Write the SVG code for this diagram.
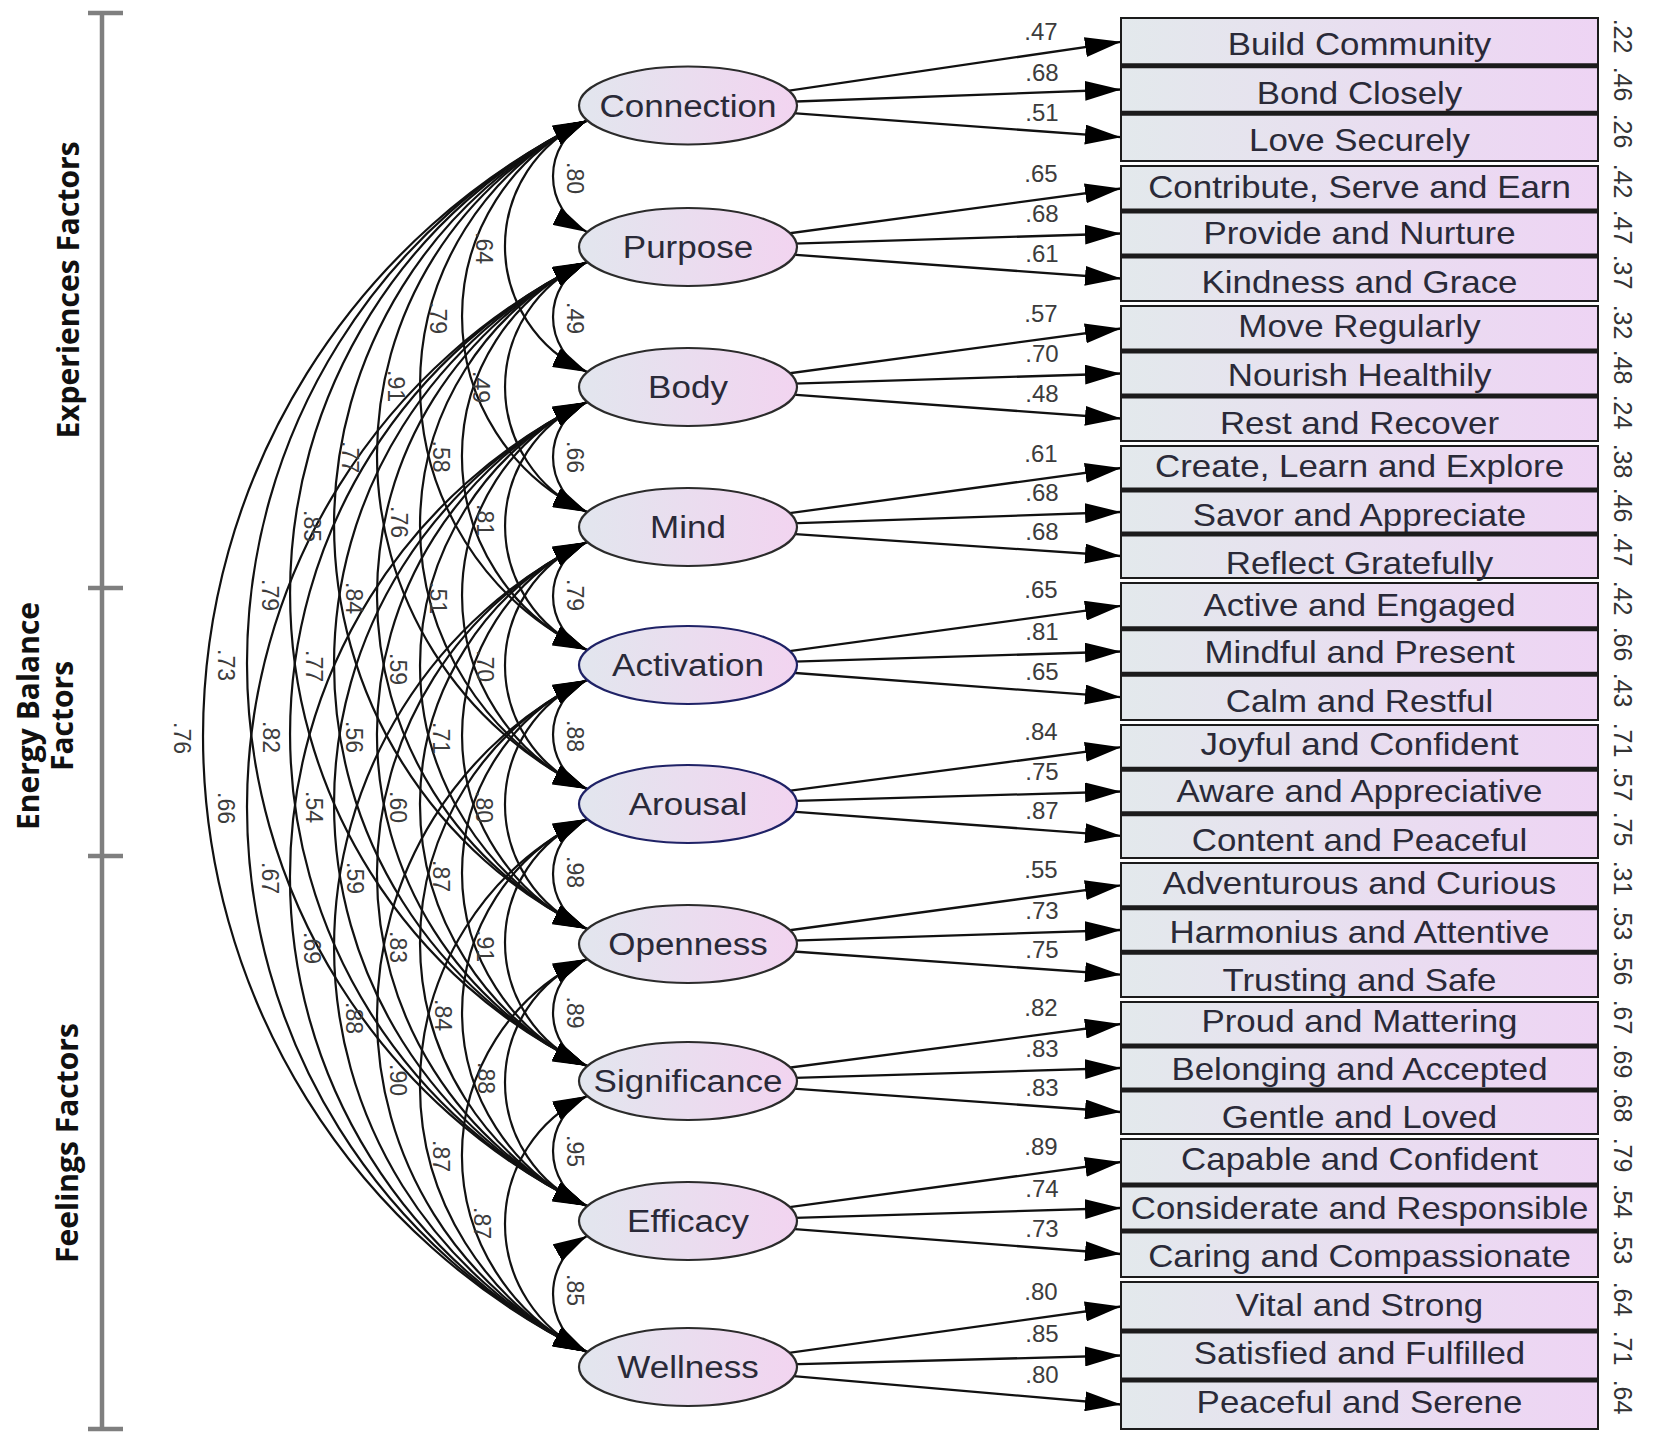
<svg xmlns="http://www.w3.org/2000/svg" width="1654" height="1450" viewBox="0 0 1654 1450">
<defs>
<linearGradient id="gE" x1="0" y1="0" x2="1" y2="0"><stop offset="0" stop-color="#e2e6ee"/><stop offset="1" stop-color="#f2d4f0"/></linearGradient>
<linearGradient id="gB" x1="0" y1="0" x2="1" y2="0"><stop offset="0" stop-color="#e3e9ec"/><stop offset="1" stop-color="#eed4f4"/></linearGradient>
<marker id="ah" viewBox="0 0 36 20" refX="36" refY="10" markerWidth="36" markerHeight="20" markerUnits="userSpaceOnUse" orient="auto-start-reverse"><path d="M0,0 L36,10 L0,20 Z" fill="#000"/></marker>
<marker id="ah2" viewBox="0 0 34 19" refX="34" refY="9.5" markerWidth="34" markerHeight="19" markerUnits="userSpaceOnUse" orient="auto-start-reverse"><path d="M0,0 L34,9.5 L0,19 Z" fill="#000"/></marker>
<style>
.lat{fill:url(#gE);stroke:#2b2b2b;stroke-width:2.2}
.lat2{fill:url(#gE);stroke:#1f2266;stroke-width:2.2}
.box{fill:url(#gB);stroke:#1b1b1b;stroke-width:2}
.sep{stroke:#1b1b1b;stroke-width:5}
.lt{font-family:"Liberation Sans",Arial,sans-serif;font-size:31px;fill:#2a2a38;text-anchor:middle}
.bt{font-family:"Liberation Sans",Arial,sans-serif;font-size:32px;fill:#2a2a38;text-anchor:middle}
.reg{stroke:#111;stroke-width:2.3;fill:none;marker-end:url(#ah)}
.cov{stroke:#111;stroke-width:2.2;fill:none;marker-start:url(#ah2);marker-end:url(#ah2)}
.pl{font-family:"Liberation Sans",Arial,sans-serif;font-size:24px;fill:#3c3c3c;text-anchor:middle}
.cl{font-family:"Liberation Sans",Arial,sans-serif;font-size:23px;fill:#3c3c3c;text-anchor:middle;dominant-baseline:central}
.rn{font-family:"Liberation Sans",Arial,sans-serif;font-size:25px;fill:#333;text-anchor:middle;dominant-baseline:central}
.br{stroke:#7f7f7f;stroke-width:4.5;fill:none}
.bl{font-family:"Open Sans","DejaVu Sans",sans-serif;font-weight:700;font-size:30px;fill:#111;text-anchor:middle}
</style>
</defs>
<rect x="0" y="0" width="1654" height="1450" fill="#fff"/>

<g id="bracket">
<line class="br" x1="102" y1="13" x2="102" y2="1429"/>
<line class="br" x1="88" y1="13" x2="123" y2="13"/>
<line class="br" x1="88" y1="588" x2="123" y2="588"/>
<line class="br" x1="88" y1="856" x2="123" y2="856"/>
<line class="br" x1="88" y1="1429" x2="123" y2="1429"/>
<text class="bl" transform="translate(79 290) rotate(-90)">Experiences Factors</text>
<text class="bl" transform="translate(39 716) rotate(-90)">Energy Balance</text>
<text class="bl" transform="translate(73 716) rotate(-90)">Factors</text>
<text class="bl" transform="translate(78 1143) rotate(-90)">Feelings Factors</text>
</g>

<g id="connectors">
<!-- covariances -->
<path class="cov" d="M587 120.5 A62.7 62.7 0 0 0 587 232"/>
<path class="cov" d="M587 262 A61.5 61.5 0 0 0 587 372"/>
<path class="cov" d="M587 402 A61.5 61.5 0 0 0 587 512"/>
<path class="cov" d="M587 542 A59.9 59.9 0 0 0 587 650"/>
<path class="cov" d="M587 680 A60.7 60.7 0 0 0 587 789"/>
<path class="cov" d="M587 819 A61.5 61.5 0 0 0 587 929"/>
<path class="cov" d="M587 959 A59.1 59.1 0 0 0 587 1066"/>
<path class="cov" d="M587 1096 A61.5 61.5 0 0 0 587 1206"/>
<path class="cov" d="M587 1236 A66.5 66.5 0 0 0 587 1352"/>
<path class="cov" d="M587 120.5 A137.4 137.4 0 0 0 587 372"/>
<path class="cov" d="M587 262 A136.3 136.3 0 0 0 587 512"/>
<path class="cov" d="M587 402 A134.8 134.8 0 0 0 587 650"/>
<path class="cov" d="M587 542 A134.0 134.0 0 0 0 587 789"/>
<path class="cov" d="M587 680 A135.5 135.5 0 0 0 587 929"/>
<path class="cov" d="M587 819 A134.0 134.0 0 0 0 587 1066"/>
<path class="cov" d="M587 959 A134.0 134.0 0 0 0 587 1206"/>
<path class="cov" d="M587 1096 A140.9 140.9 0 0 0 587 1352"/>
<path class="cov" d="M587 120.5 A215.8 215.8 0 0 0 587 512"/>
<path class="cov" d="M587 262 A213 213 0 0 0 587 650"/>
<path class="cov" d="M587 402 A212.3 212.3 0 0 0 587 789"/>
<path class="cov" d="M587 542 A212.3 212.3 0 0 0 587 929"/>
<path class="cov" d="M587 680 A211.5 211.5 0 0 0 587 1066"/>
<path class="cov" d="M587 819 A212.3 212.3 0 0 0 587 1206"/>
<path class="cov" d="M587 959 A216.9 216.9 0 0 0 587 1352"/>
<path class="cov" d="M587 120.5 A293.4 293.4 0 0 0 587 650"/>
<path class="cov" d="M587 262 A291.4 291.4 0 0 0 587 789"/>
<path class="cov" d="M587 402 A291.4 291.4 0 0 0 587 929"/>
<path class="cov" d="M587 542 A289 289 0 0 0 587 1066"/>
<path class="cov" d="M587 680 A290.6 290.6 0 0 0 587 1206"/>
<path class="cov" d="M587 819 A296.1 296.1 0 0 0 587 1352"/>
<path class="cov" d="M587 120.5 A371 371 0 0 0 587 789"/>
<path class="cov" d="M587 262 A369.8 369.8 0 0 0 587 929"/>
<path class="cov" d="M587 402 A367.4 367.4 0 0 0 587 1066"/>
<path class="cov" d="M587 542 A367.4 367.4 0 0 0 587 1206"/>
<path class="cov" d="M587 680 A373.8 373.8 0 0 0 587 1352"/>
<path class="cov" d="M587 120.5 A449.5 449.5 0 0 0 587 929"/>
<path class="cov" d="M587 262 A445.9 445.9 0 0 0 587 1066"/>
<path class="cov" d="M587 402 A445.9 445.9 0 0 0 587 1206"/>
<path class="cov" d="M587 542 A450.7 450.7 0 0 0 587 1352"/>
<path class="cov" d="M587 120.5 A524.8 524.8 0 0 0 587 1066"/>
<path class="cov" d="M587 262 A523.6 523.6 0 0 0 587 1206"/>
<path class="cov" d="M587 402 A528.3 528.3 0 0 0 587 1352"/>
<path class="cov" d="M587 120.5 A603.2 603.2 0 0 0 587 1206"/>
<path class="cov" d="M587 262 A606.8 606.8 0 0 0 587 1352"/>
<path class="cov" d="M587 120.5 A685.7 685.7 0 0 0 587 1352"/>
<!-- covariance labels -->
<text class="cl" transform="translate(575 178) rotate(90)">.80</text>
<text class="cl" transform="translate(575 318) rotate(90)">.49</text>
<text class="cl" transform="translate(575 457) rotate(90)">.66</text>
<text class="cl" transform="translate(575 595) rotate(90)">.79</text>
<text class="cl" transform="translate(575 736) rotate(90)">.88</text>
<text class="cl" transform="translate(575 872) rotate(90)">.98</text>
<text class="cl" transform="translate(575 1012.5) rotate(90)">.89</text>
<text class="cl" transform="translate(575 1151) rotate(90)">.95</text>
<text class="cl" transform="translate(575 1290) rotate(90)">.85</text>
<text class="cl" transform="translate(484 248) rotate(90)">.64</text>
<text class="cl" transform="translate(481 387) rotate(90)">.49</text>
<text class="cl" transform="translate(485 520) rotate(90)">.81</text>
<text class="cl" transform="translate(485 666) rotate(90)">.70</text>
<text class="cl" transform="translate(484 807) rotate(90)">.80</text>
<text class="cl" transform="translate(485 946) rotate(90)">.91</text>
<text class="cl" transform="translate(486 1078) rotate(90)">.88</text>
<text class="cl" transform="translate(482 1223) rotate(90)">.87</text>
<text class="cl" transform="translate(438 318) rotate(90)">.79</text>
<text class="cl" transform="translate(441 456.5) rotate(90)">.58</text>
<text class="cl" transform="translate(438 598) rotate(90)">.51</text>
<text class="cl" transform="translate(441 738) rotate(90)">.71</text>
<text class="cl" transform="translate(441 876) rotate(90)">.87</text>
<text class="cl" transform="translate(443 1015) rotate(90)">.84</text>
<text class="cl" transform="translate(441 1156) rotate(90)">.87</text>
<text class="cl" transform="translate(396 386) rotate(90)">.91</text>
<text class="cl" transform="translate(399 522) rotate(90)">.76</text>
<text class="cl" transform="translate(398 669) rotate(90)">.59</text>
<text class="cl" transform="translate(398 807) rotate(90)">.60</text>
<text class="cl" transform="translate(398 947) rotate(90)">.83</text>
<text class="cl" transform="translate(398 1080) rotate(90)">.90</text>
<text class="cl" transform="translate(350 457) rotate(90)">.77</text>
<text class="cl" transform="translate(354 598) rotate(90)">.84</text>
<text class="cl" transform="translate(354 737) rotate(90)">.56</text>
<text class="cl" transform="translate(355 878) rotate(90)">.59</text>
<text class="cl" transform="translate(354 1018) rotate(90)">.88</text>
<text class="cl" transform="translate(312 526) rotate(90)">.85</text>
<text class="cl" transform="translate(314 666) rotate(90)">.77</text>
<text class="cl" transform="translate(314 807) rotate(90)">.54</text>
<text class="cl" transform="translate(312 948) rotate(90)">.69</text>
<text class="cl" transform="translate(270 595) rotate(90)">.79</text>
<text class="cl" transform="translate(271 737) rotate(90)">.82</text>
<text class="cl" transform="translate(270 878) rotate(90)">.67</text>
<text class="cl" transform="translate(226 665) rotate(90)">.73</text>
<text class="cl" transform="translate(226 808) rotate(90)">.66</text>
<text class="cl" transform="translate(182 738) rotate(90)">.76</text>
<!-- regression paths -->
<line class="reg" x1="688" y1="105.5" x2="1121" y2="41.8"/>
<line class="reg" x1="688" y1="105.5" x2="1121" y2="89.5"/>
<line class="reg" x1="688" y1="105.5" x2="1121" y2="137.2"/>
<line class="reg" x1="688" y1="247" x2="1121" y2="188.5"/>
<line class="reg" x1="688" y1="247" x2="1121" y2="233.5"/>
<line class="reg" x1="688" y1="247" x2="1121" y2="278.5"/>
<line class="reg" x1="688" y1="387" x2="1121" y2="328.5"/>
<line class="reg" x1="688" y1="387" x2="1121" y2="373.5"/>
<line class="reg" x1="688" y1="387" x2="1121" y2="418.5"/>
<line class="reg" x1="688" y1="527" x2="1121" y2="468"/>
<line class="reg" x1="688" y1="527" x2="1121" y2="512"/>
<line class="reg" x1="688" y1="527" x2="1121" y2="556"/>
<line class="reg" x1="688" y1="665" x2="1121" y2="605.8"/>
<line class="reg" x1="688" y1="665" x2="1121" y2="651.5"/>
<line class="reg" x1="688" y1="665" x2="1121" y2="697.2"/>
<line class="reg" x1="688" y1="804" x2="1121" y2="747.2"/>
<line class="reg" x1="688" y1="804" x2="1121" y2="791.5"/>
<line class="reg" x1="688" y1="804" x2="1121" y2="835.8"/>
<line class="reg" x1="688" y1="944" x2="1121" y2="885.3"/>
<line class="reg" x1="688" y1="944" x2="1121" y2="930"/>
<line class="reg" x1="688" y1="944" x2="1121" y2="974.7"/>
<line class="reg" x1="688" y1="1081" x2="1121" y2="1024"/>
<line class="reg" x1="688" y1="1081" x2="1121" y2="1068"/>
<line class="reg" x1="688" y1="1081" x2="1121" y2="1112"/>
<line class="reg" x1="688" y1="1221" x2="1121" y2="1162"/>
<line class="reg" x1="688" y1="1221" x2="1121" y2="1208"/>
<line class="reg" x1="688" y1="1221" x2="1121" y2="1254"/>
<line class="reg" x1="688" y1="1367" x2="1121" y2="1306.5"/>
<line class="reg" x1="688" y1="1367" x2="1121" y2="1355.5"/>
<line class="reg" x1="688" y1="1367" x2="1121" y2="1404.5"/>
<!-- regression labels -->
<text class="pl" x="1041" y="40">.47</text>
<text class="pl" x="1042" y="81">.68</text>
<text class="pl" x="1042" y="121">.51</text>
<text class="pl" x="1041" y="182">.65</text>
<text class="pl" x="1042" y="222">.68</text>
<text class="pl" x="1042" y="262">.61</text>
<text class="pl" x="1041" y="322">.57</text>
<text class="pl" x="1042" y="362">.70</text>
<text class="pl" x="1042" y="402">.48</text>
<text class="pl" x="1041" y="462">.61</text>
<text class="pl" x="1042" y="501">.68</text>
<text class="pl" x="1042" y="540">.68</text>
<text class="pl" x="1041" y="598">.65</text>
<text class="pl" x="1042" y="640">.81</text>
<text class="pl" x="1042" y="680">.65</text>
<text class="pl" x="1041" y="740">.84</text>
<text class="pl" x="1042" y="780">.75</text>
<text class="pl" x="1042" y="819">.87</text>
<text class="pl" x="1041" y="878">.55</text>
<text class="pl" x="1042" y="919">.73</text>
<text class="pl" x="1042" y="958">.75</text>
<text class="pl" x="1041" y="1016">.82</text>
<text class="pl" x="1042" y="1057">.83</text>
<text class="pl" x="1042" y="1096">.83</text>
<text class="pl" x="1041" y="1155">.89</text>
<text class="pl" x="1042" y="1197">.74</text>
<text class="pl" x="1042" y="1237">.73</text>
<text class="pl" x="1041" y="1300">.80</text>
<text class="pl" x="1042" y="1342">.85</text>
<text class="pl" x="1042" y="1383">.80</text>
<!-- squared multiple correlations -->
<text class="rn" transform="translate(1623 36) rotate(90)">.22</text>
<text class="rn" transform="translate(1623 84) rotate(90)">.46</text>
<text class="rn" transform="translate(1623 131) rotate(90)">.26</text>
<text class="rn" transform="translate(1623 181) rotate(90)">.42</text>
<text class="rn" transform="translate(1623 227) rotate(90)">.47</text>
<text class="rn" transform="translate(1623 272) rotate(90)">.37</text>
<text class="rn" transform="translate(1623 322) rotate(90)">.32</text>
<text class="rn" transform="translate(1623 367) rotate(90)">.48</text>
<text class="rn" transform="translate(1623 412) rotate(90)">.24</text>
<text class="rn" transform="translate(1623 461) rotate(90)">.38</text>
<text class="rn" transform="translate(1623 505) rotate(90)">.46</text>
<text class="rn" transform="translate(1623 549) rotate(90)">.47</text>
<text class="rn" transform="translate(1623 598) rotate(90)">.42</text>
<text class="rn" transform="translate(1623 644) rotate(90)">.66</text>
<text class="rn" transform="translate(1623 690) rotate(90)">.43</text>
<text class="rn" transform="translate(1623 740) rotate(90)">.71</text>
<text class="rn" transform="translate(1623 784) rotate(90)">.57</text>
<text class="rn" transform="translate(1623 829) rotate(90)">.75</text>
<text class="rn" transform="translate(1623 878) rotate(90)">.31</text>
<text class="rn" transform="translate(1623 923) rotate(90)">.53</text>
<text class="rn" transform="translate(1623 968) rotate(90)">.56</text>
<text class="rn" transform="translate(1623 1017) rotate(90)">.67</text>
<text class="rn" transform="translate(1623 1061) rotate(90)">.69</text>
<text class="rn" transform="translate(1623 1105) rotate(90)">.68</text>
<text class="rn" transform="translate(1623 1155) rotate(90)">.79</text>
<text class="rn" transform="translate(1623 1201) rotate(90)">.54</text>
<text class="rn" transform="translate(1623 1247) rotate(90)">.53</text>
<text class="rn" transform="translate(1623 1299) rotate(90)">.64</text>
<text class="rn" transform="translate(1623 1348) rotate(90)">.71</text>
<text class="rn" transform="translate(1623 1397) rotate(90)">.64</text>
</g>

<g id="latents">
<g id="n-connection"><ellipse class="lat" cx="688" cy="105.5" rx="109" ry="39"/><text class="lt" transform="translate(688 116.5) scale(1.13 1)">Connection</text></g>
<g id="n-purpose"><ellipse class="lat" cx="688" cy="247" rx="109" ry="39"/><text class="lt" transform="translate(688 258) scale(1.13 1)">Purpose</text></g>
<g id="n-body"><ellipse class="lat" cx="688" cy="387" rx="109" ry="39"/><text class="lt" transform="translate(688 398) scale(1.13 1)">Body</text></g>
<g id="n-mind"><ellipse class="lat" cx="688" cy="527" rx="109" ry="39"/><text class="lt" transform="translate(688 538) scale(1.13 1)">Mind</text></g>
<g id="n-activation"><ellipse class="lat2" cx="688" cy="665" rx="109" ry="39"/><text class="lt" transform="translate(688 676) scale(1.13 1)">Activation</text></g>
<g id="n-arousal"><ellipse class="lat2" cx="688" cy="804" rx="109" ry="39"/><text class="lt" transform="translate(688 815) scale(1.13 1)">Arousal</text></g>
<g id="n-openness"><ellipse class="lat" cx="688" cy="944" rx="109" ry="39"/><text class="lt" transform="translate(688 955) scale(1.13 1)">Openness</text></g>
<g id="n-significance"><ellipse class="lat" cx="688" cy="1081" rx="109" ry="39"/><text class="lt" transform="translate(688 1092) scale(1.13 1)">Significance</text></g>
<g id="n-efficacy"><ellipse class="lat" cx="688" cy="1221" rx="109" ry="39"/><text class="lt" transform="translate(688 1232) scale(1.13 1)">Efficacy</text></g>
<g id="n-wellness"><ellipse class="lat" cx="688" cy="1367" rx="109" ry="39"/><text class="lt" transform="translate(688 1378) scale(1.13 1)">Wellness</text></g>
</g>

<g id="indicators">
<g id="b-build-community"><rect class="box" x="1121" y="18" width="477" height="47.67"/><text class="bt" transform="translate(1359.5 55.3) scale(1.09 1)">Build Community</text></g>
<g id="b-bond-closely"><rect class="box" x="1121" y="65.67" width="477" height="47.67"/><line class="sep" x1="1121" y1="65.67" x2="1598" y2="65.67"/><text class="bt" transform="translate(1359.5 103.8) scale(1.09 1)">Bond Closely</text></g>
<g id="b-love-securely"><rect class="box" x="1121" y="113.33" width="477" height="47.67"/><line class="sep" x1="1121" y1="113.33" x2="1598" y2="113.33"/><text class="bt" transform="translate(1359.5 151.3) scale(1.09 1)">Love Securely</text></g>

<g id="b-contribute"><rect class="box" x="1121" y="166" width="477" height="45"/><text class="bt" transform="translate(1359.5 197.7) scale(1.09 1)">Contribute, Serve and Earn</text></g>
<g id="b-provide"><rect class="box" x="1121" y="211" width="477" height="45"/><line class="sep" x1="1121" y1="211" x2="1598" y2="211"/><text class="bt" transform="translate(1359.5 244.1) scale(1.09 1)">Provide and Nurture</text></g>
<g id="b-kindness"><rect class="box" x="1121" y="256" width="477" height="45"/><line class="sep" x1="1121" y1="256" x2="1598" y2="256"/><text class="bt" transform="translate(1359.5 292.7) scale(1.09 1)">Kindness and Grace</text></g>

<g id="b-move"><rect class="box" x="1121" y="306" width="477" height="45"/><text class="bt" transform="translate(1359.5 337) scale(1.09 1)">Move Regularly</text></g>
<g id="b-nourish"><rect class="box" x="1121" y="351" width="477" height="45"/><line class="sep" x1="1121" y1="351" x2="1598" y2="351"/><text class="bt" transform="translate(1359.5 385.5) scale(1.09 1)">Nourish Healthily</text></g>
<g id="b-rest"><rect class="box" x="1121" y="396" width="477" height="45"/><line class="sep" x1="1121" y1="396" x2="1598" y2="396"/><text class="bt" transform="translate(1359.5 434) scale(1.09 1)">Rest and Recover</text></g>

<g id="b-create"><rect class="box" x="1121" y="446" width="477" height="44"/><text class="bt" transform="translate(1359.5 477.3) scale(1.09 1)">Create, Learn and Explore</text></g>
<g id="b-savor"><rect class="box" x="1121" y="490" width="477" height="44"/><line class="sep" x1="1121" y1="490" x2="1598" y2="490"/><text class="bt" transform="translate(1359.5 525.8) scale(1.09 1)">Savor and Appreciate</text></g>
<g id="b-reflect"><rect class="box" x="1121" y="534" width="477" height="44"/><line class="sep" x1="1121" y1="534" x2="1598" y2="534"/><text class="bt" transform="translate(1359.5 574.3) scale(1.09 1)">Reflect Gratefully</text></g>

<g id="b-active"><rect class="box" x="1121" y="583" width="477" height="45.67"/><text class="bt" transform="translate(1359.5 615.5) scale(1.09 1)">Active and Engaged</text></g>
<g id="b-mindful"><rect class="box" x="1121" y="628.67" width="477" height="45.67"/><line class="sep" x1="1121" y1="628.67" x2="1598" y2="628.67"/><text class="bt" transform="translate(1359.5 662.9) scale(1.09 1)">Mindful and Present</text></g>
<g id="b-calm"><rect class="box" x="1121" y="674.33" width="477" height="45.67"/><line class="sep" x1="1121" y1="674.33" x2="1598" y2="674.33"/><text class="bt" transform="translate(1359.5 711.5) scale(1.09 1)">Calm and Restful</text></g>

<g id="b-joyful"><rect class="box" x="1121" y="725" width="477" height="44.33"/><text class="bt" transform="translate(1359.5 754.7) scale(1.09 1)">Joyful and Confident</text></g>
<g id="b-aware"><rect class="box" x="1121" y="769.33" width="477" height="44.33"/><line class="sep" x1="1121" y1="769.33" x2="1598" y2="769.33"/><text class="bt" transform="translate(1359.5 802.2) scale(1.09 1)">Aware and Appreciative</text></g>
<g id="b-content"><rect class="box" x="1121" y="813.67" width="477" height="44.33"/><line class="sep" x1="1121" y1="813.67" x2="1598" y2="813.67"/><text class="bt" transform="translate(1359.5 850.7) scale(1.09 1)">Content and Peaceful</text></g>

<g id="b-adventurous"><rect class="box" x="1121" y="863" width="477" height="44.67"/><text class="bt" transform="translate(1359.5 894) scale(1.09 1)">Adventurous and Curious</text></g>
<g id="b-harmonius"><rect class="box" x="1121" y="907.67" width="477" height="44.67"/><line class="sep" x1="1121" y1="907.67" x2="1598" y2="907.67"/><text class="bt" transform="translate(1359.5 942.5) scale(1.09 1)">Harmonius and Attentive</text></g>
<g id="b-trusting"><rect class="box" x="1121" y="952.33" width="477" height="44.67"/><line class="sep" x1="1121" y1="952.33" x2="1598" y2="952.33"/><text class="bt" transform="translate(1359.5 991) scale(1.09 1)">Trusting and Safe</text></g>

<g id="b-proud"><rect class="box" x="1121" y="1002" width="477" height="44"/><text class="bt" transform="translate(1359.5 1032) scale(1.09 1)">Proud and Mattering</text></g>
<g id="b-belonging"><rect class="box" x="1121" y="1046" width="477" height="44"/><line class="sep" x1="1121" y1="1046" x2="1598" y2="1046"/><text class="bt" transform="translate(1359.5 1079.6) scale(1.09 1)">Belonging and Accepted</text></g>
<g id="b-gentle"><rect class="box" x="1121" y="1090" width="477" height="44"/><line class="sep" x1="1121" y1="1090" x2="1598" y2="1090"/><text class="bt" transform="translate(1359.5 1128) scale(1.09 1)">Gentle and Loved</text></g>

<g id="b-capable"><rect class="box" x="1121" y="1139" width="477" height="46"/><text class="bt" transform="translate(1359.5 1170.3) scale(1.09 1)">Capable and Confident</text></g>
<g id="b-considerate"><rect class="box" x="1121" y="1185" width="477" height="46"/><line class="sep" x1="1121" y1="1185" x2="1598" y2="1185"/><text class="bt" transform="translate(1359.5 1218.9) scale(1.09 1)">Considerate and Responsible</text></g>
<g id="b-caring"><rect class="box" x="1121" y="1231" width="477" height="46"/><line class="sep" x1="1121" y1="1231" x2="1598" y2="1231"/><text class="bt" transform="translate(1359.5 1267.4) scale(1.09 1)">Caring and Compassionate</text></g>

<g id="b-vital"><rect class="box" x="1121" y="1282" width="477" height="49"/><text class="bt" transform="translate(1359.5 1316) scale(1.09 1)">Vital and Strong</text></g>
<g id="b-satisfied"><rect class="box" x="1121" y="1331" width="477" height="49"/><line class="sep" x1="1121" y1="1331" x2="1598" y2="1331"/><text class="bt" transform="translate(1359.5 1364.4) scale(1.09 1)">Satisfied and Fulfilled</text></g>
<g id="b-peaceful"><rect class="box" x="1121" y="1380" width="477" height="49"/><line class="sep" x1="1121" y1="1380" x2="1598" y2="1380"/><text class="bt" transform="translate(1359.5 1413) scale(1.09 1)">Peaceful and Serene</text></g>
</g>
</svg>
